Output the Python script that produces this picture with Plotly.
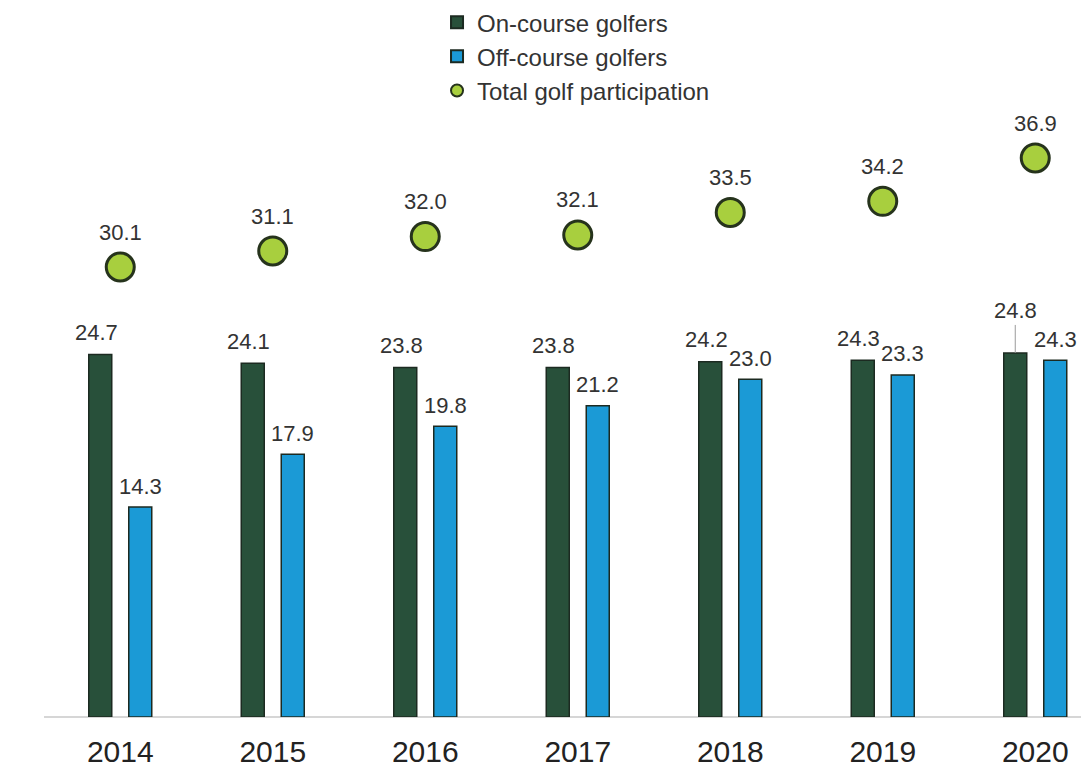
import plotly.graph_objects as go

# Golf participation (millions)
years = [2014, 2015, 2016, 2017, 2018, 2019, 2020]
on_course = [24.7, 24.1, 23.8, 23.8, 24.2, 24.3, 24.8]
off_course = [14.3, 17.9, 19.8, 21.2, 23.0, 23.3, 24.3]
total = [30.1, 31.1, 32.0, 32.1, 33.5, 34.2, 36.9]

DARK_GREEN = "#28503a"
BLUE = "#1b9ad6"
LIME = "#a8cf3e"
OUTLINE = "#1c2a21"
TEXT = "#333333"
FONT = "Liberation Sans, Arial, sans-serif"

# geometry of the grouped bars (category spacing = 1 unit)
PX_PER_CAT = 152.5
BAR_W = 23 / PX_PER_CAT
ON_OFFSET = -31.5 / PX_PER_CAT
OFF_OFFSET = 8.5 / PX_PER_CAT
ON_CENTER = ON_OFFSET + BAR_W / 2
OFF_CENTER = OFF_OFFSET + BAR_W / 2

fig = go.Figure()

fig.add_trace(go.Bar(
    x=years, y=on_course, name="On-course golfers",
    width=BAR_W, offset=ON_OFFSET,
    marker=dict(color=DARK_GREEN, line=dict(color=OUTLINE, width=1.5)),
    yaxis="y",
))
fig.add_trace(go.Bar(
    x=years, y=off_course, name="Off-course golfers",
    width=BAR_W, offset=OFF_OFFSET,
    marker=dict(color=BLUE, line=dict(color=OUTLINE, width=1.5)),
    yaxis="y",
))
fig.add_trace(go.Scatter(
    x=years, y=total, name="Total golf participation",
    mode="markers",
    marker=dict(size=28, color=LIME, line=dict(color="#26331c", width=3)),
    yaxis="y2",
))

annotations = []
label_font = dict(family=FONT, size=22, color=TEXT)

# value labels above the on-course bars
for yr, v in zip(years, on_course):
    if yr == 2020:
        annotations.append(dict(
            x=yr + ON_CENTER, y=v, xref="x", yref="y", text=f"{v:.1f}",
            showarrow=True, arrowhead=0, arrowwidth=1, arrowcolor="#9a9a9a",
            ax=0, ay=-42, font=label_font,
        ))
    else:
        annotations.append(dict(
            x=yr + ON_CENTER, y=v, xref="x", yref="y", text=f"{v:.1f}",
            showarrow=False, yanchor="middle", yshift=22, xshift=-4,
            font=label_font,
        ))

# value labels above the off-course bars
for yr, v in zip(years, off_course):
    annotations.append(dict(
        x=yr + OFF_CENTER, y=v, xref="x", yref="y", text=f"{v:.1f}",
        showarrow=False, yanchor="middle", yshift=21, font=label_font,
    ))

# totals above the circles
for yr, v in zip(years, total):
    annotations.append(dict(
        x=yr, y=v, xref="x", yref="y2", text=f"{v:.1f}",
        showarrow=False, yanchor="middle", yshift=35, font=label_font,
    ))

fig.update_layout(
    width=1081, height=776,
    margin=dict(l=44, r=0, t=100, b=59),
    paper_bgcolor="white", plot_bgcolor="white",
    barmode="overlay",
    showlegend=True,
    legend=dict(
        x=0.379, y=1.162, xanchor="left", yanchor="top",
        font=dict(family=FONT, size=24, color=TEXT),
        itemsizing="constant", bgcolor="rgba(0,0,0,0)",
        tracegroupgap=0,
    ),
    xaxis=dict(
        range=[2013.5, 2013.5 + 1037 / PX_PER_CAT],
        tickmode="array", tickvals=years, ticktext=[str(y) for y in years],
        tickfont=dict(family=FONT, size=30, color="#222222"),
        showgrid=False, zeroline=False, showline=False, ticks="",
        ticklabelstandoff=14,
    ),
    yaxis=dict(
        range=[0, 617 / 14.68],
        showgrid=False, showticklabels=False, ticks="",
        zeroline=True, zerolinecolor="#d6d6d6", zerolinewidth=2,
    ),
    yaxis2=dict(
        range=[2.03, 40.52], overlaying="y",
        showgrid=False, showticklabels=False, ticks="", zeroline=False,
    ),
    annotations=annotations,
)

fig.write_html("out.html")
